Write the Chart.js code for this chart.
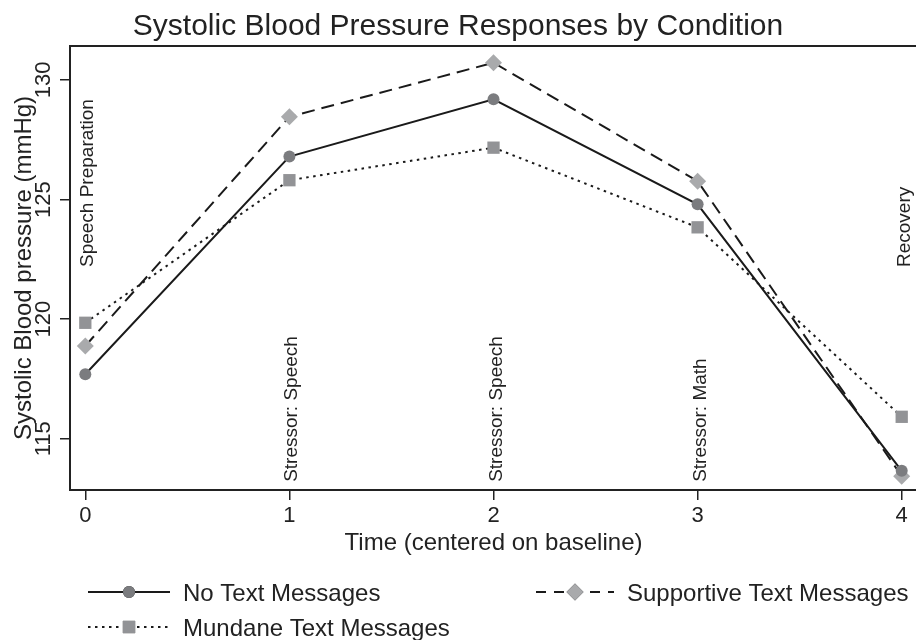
<!DOCTYPE html>
<html>
<head>
<meta charset="utf-8">
<title>Systolic Blood Pressure Responses by Condition</title>
<script src="https://cdn.jsdelivr.net/npm/chart.js@4/dist/chart.umd.min.js"></script>
<style>
    html, body { margin: 0; padding: 0; background: #fff; }
    #wrap { width: 916px; height: 640px; position: relative; }
</style>
</head>
<body>
<div id="wrap"><canvas id="chartLine"></canvas></div>
<script>
// data
var times = [0, 1, 2, 3, 4];
var noText = [117.7, 126.8, 129.19, 124.8, 113.66];
var supportive = [118.88, 128.46, 130.72, 125.77, 113.44];
var mundane = [119.85, 125.81, 127.17, 123.84, 115.92];
var yTicks = [115, 120, 125, 130];
var phaseLabels = ["Speech Preparation", "Stressor: Speech", "Stressor: Speech", "Stressor: Math", "Recovery"];
var seriesNames = ["No Text Messages", "Supportive Text Messages", "Mundane Text Messages"];

var FONT = '"Liberation Sans", Arial, Helvetica, sans-serif';
var INK = '#222';

function toPoints(values) {
    return times.map(function (t, i) { return { x: t, y: values[i] }; });
}

// titles, rotated tick labels, phase notes, legend
var extras = {
    id: 'extras',
    afterDraw: function (chart) {
        var ctx = chart.ctx;
        var area = chart.chartArea;
        var xs = chart.scales.x;
        var ys = chart.scales.y;

        ctx.save();
        ctx.strokeStyle = INK;
        ctx.lineWidth = 2;
        ctx.beginPath();
        ctx.moveTo(area.left, area.top);
        ctx.lineTo(area.right, area.top);
        ctx.stroke();

        ctx.fillStyle = INK;
        ctx.textBaseline = 'alphabetic';

        // main title
        ctx.font = '30px ' + FONT;
        ctx.textAlign = 'center';
        ctx.fillText('Systolic Blood Pressure Responses by Condition', chart.width / 2, 35);

        // x title
        ctx.font = '24px ' + FONT;
        ctx.fillText('Time (centered on baseline)', xs.getPixelForValue(2), 550);

        // y title
        ctx.save();
        ctx.translate(31, (area.top + area.bottom) / 2);
        ctx.rotate(-Math.PI / 2);
        ctx.fillText('Systolic Blood pressure (mmHg)', 0, 0);
        ctx.restore();

        // y tick labels, vertical
        ctx.font = '22px ' + FONT;
        ys.ticks.forEach(function (t) {
            ctx.save();
            ctx.translate(50, ys.getPixelForValue(t.value));
            ctx.rotate(-Math.PI / 2);
            ctx.fillText(String(t.value), 0, 0);
            ctx.restore();
        });

        // phase notes
        ctx.font = '19px ' + FONT;
        ctx.textAlign = 'left';
        phaseLabels.forEach(function (txt, i) {
            var low = (i === 0 || i === phaseLabels.length - 1) ? 122.18 : 113.2;
            ctx.save();
            ctx.translate(xs.getPixelForValue(times[i]) + 8, ys.getPixelForValue(low));
            ctx.rotate(-Math.PI / 2);
            ctx.fillText(txt, 0, 0);
            ctx.restore();
        });

        // legend
        var slots = [
            { x0: 88, x1: 170, y: 592 },
            { x0: 536, x1: 614, y: 592 },
            { x0: 88, x1: 170, y: 627 }
        ];
        chart.data.datasets.forEach(function (ds, i) {
            var s = slots[i];
            ctx.save();
            ctx.strokeStyle = ds.borderColor;
            ctx.lineWidth = ds.borderWidth;
            ctx.setLineDash(ds.legendDash);
            ctx.beginPath();
            ctx.moveTo(s.x0, s.y);
            ctx.lineTo(s.x1, s.y);
            ctx.stroke();
            ctx.setLineDash([]);
            Chart.helpers.drawPoint(ctx, {
                pointStyle: ds.pointStyle,
                radius: ds.pointRadius,
                borderWidth: 0,
                rotation: 0
            }, (s.x0 + s.x1) / 2, s.y);
            ctx.fillStyle = ds.pointBackgroundColor;
            ctx.fill();
            ctx.restore();

            ctx.font = '24px ' + FONT;
            ctx.fillStyle = INK;
            ctx.textAlign = 'left';
            ctx.fillText(ds.label, s.x1 + 13, s.y + 8.5);
        });
        ctx.restore();
    }
};

var ctxLine = document.getElementById('chartLine').getContext('2d');
var chartLine = new Chart(ctxLine, {
    type: 'line',
    data: {
        datasets: [{
            label: seriesNames[0],
            data: toPoints(noText),
            borderColor: '#1a1a1a',
            borderWidth: 2,
            borderDash: [],
            legendDash: [],
            pointStyle: 'circle',
            pointRadius: 6,
            pointBorderWidth: 0,
            pointBackgroundColor: '#7b7c7f',
            pointBorderColor: '#7b7c7f',
            tension: 0
        }, {
            label: seriesNames[1],
            data: toPoints(supportive),
            borderColor: '#1a1a1a',
            borderWidth: 2,
            borderDash: [13, 7],
            legendDash: [10, 8],
            pointStyle: 'rectRot',
            pointRadius: 8.5,
            pointBorderWidth: 0,
            pointBackgroundColor: '#a9aaac',
            pointBorderColor: '#a9aaac',
            tension: 0
        }, {
            label: seriesNames[2],
            data: toPoints(mundane),
            borderColor: '#1a1a1a',
            borderWidth: 2,
            borderDash: [2.5, 4.5],
            legendDash: [2.5, 4.5],
            pointStyle: 'rect',
            pointRadius: 8.7,
            pointBorderWidth: 0,
            pointBackgroundColor: '#929396',
            pointBorderColor: '#929396',
            tension: 0
        }]
    },
    options: {
        responsive: true,
        maintainAspectRatio: false,
        animation: false,
        layout: { autoPadding: false, padding: { top: 46, left: 0, right: 0, bottom: 0 } },
        plugins: {
            legend: { display: false },
            title: { display: false },
            tooltip: { enabled: false }
        },
        scales: {
            x: {
                type: 'linear',
                min: -0.075,
                max: 4.07,
                afterBuildTicks: function (s) {
                    s.ticks = times.map(function (v) { return { value: v }; });
                },
                afterFit: function (s) {
                    s.height = 150;
                    s.paddingLeft = 0;
                    s.paddingRight = 0;
                },
                border: { display: true, color: INK, width: 2 },
                grid: { drawOnChartArea: false, drawTicks: true, tickLength: 10, color: INK, lineWidth: 1.5 },
                ticks: {
                    color: INK,
                    padding: 3,
                    maxRotation: 0,
                    font: { family: FONT, size: 22 },
                    callback: function (v) { return v; }
                }
            },
            y: {
                type: 'linear',
                min: 112.86,
                max: 131.42,
                afterBuildTicks: function (s) {
                    s.ticks = yTicks.map(function (v) { return { value: v }; });
                },
                afterFit: function (s) {
                    s.width = 70;
                    s.paddingTop = 0;
                    s.paddingBottom = 0;
                },
                border: { display: true, color: INK, width: 2 },
                grid: { drawOnChartArea: false, drawTicks: true, tickLength: 10, color: INK, lineWidth: 1.5 },
                ticks: { display: false }
            }
        }
    },
    plugins: [extras]
});
</script>
</body>
</html>
